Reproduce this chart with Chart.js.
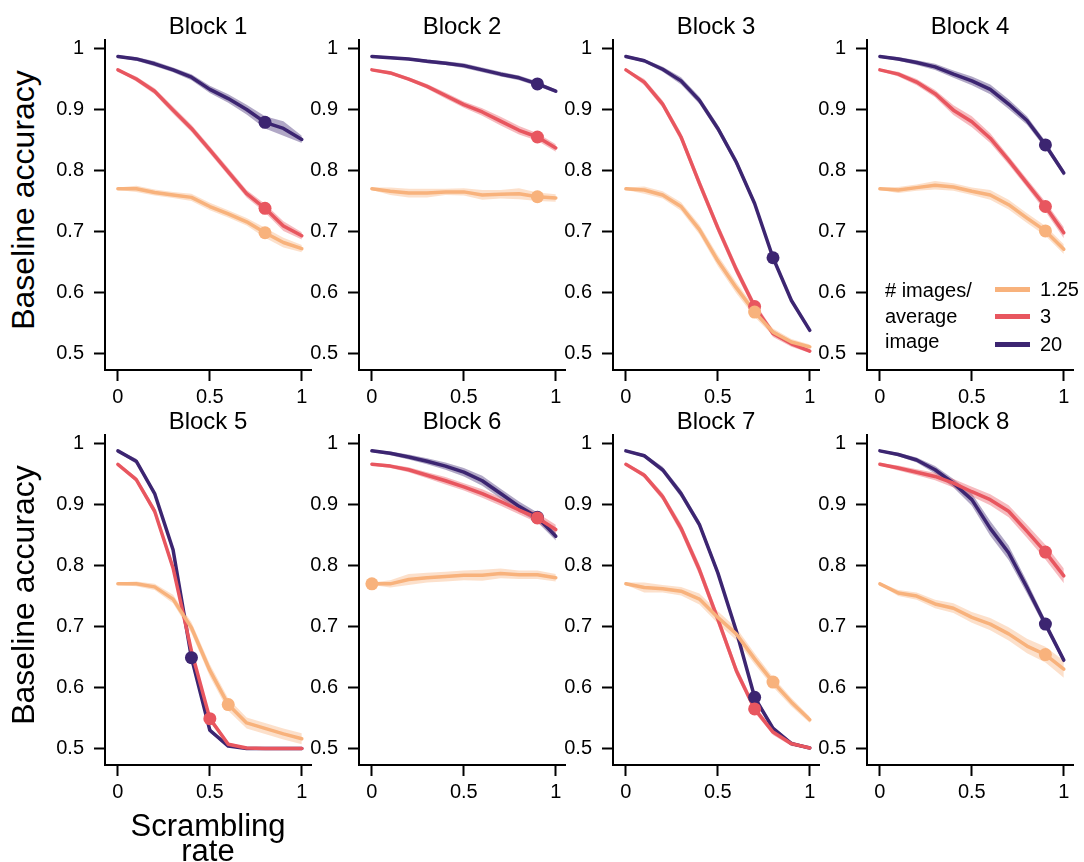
<!DOCTYPE html>
<html>
<head>
<meta charset="utf-8">
<script src="https://cdn.jsdelivr.net/npm/chart.js@4/dist/chart.umd.min.js"></script>
<style>
  body { margin: 0; background: #fff; }
  #wrap { position: relative; width: 1084px; height: 862px; overflow: hidden; font-family: "Liberation Sans", Arial, sans-serif; color: #000; }
  #wrap canvas { position: absolute; }
  .txt { position: absolute; white-space: nowrap; }
</style>
</head>
<body>
<div id="wrap"></div>
<script>
// x values shared by every block
const scramblingRates = [0, 0.1, 0.2, 0.3, 0.4, 0.5, 0.6, 0.7, 0.8, 0.9, 1];
const xTickValues = [0, 0.5, 1];
const yTickValues = [0.5, 0.6, 0.7, 0.8, 0.9, 1];
const blockNames = ["Block 1", "Block 2", "Block 3", "Block 4", "Block 5", "Block 6", "Block 7", "Block 8"];
const seriesNames = ["1.25", "3", "20"];

// mean baseline accuracy, one row per block
const acc125 = [
    [0.770, 0.770, 0.764, 0.760, 0.756, 0.741, 0.729, 0.716, 0.698, 0.682, 0.672],
    [0.770, 0.766, 0.763, 0.763, 0.765, 0.765, 0.760, 0.761, 0.762, 0.757, 0.755],
    [0.770, 0.768, 0.760, 0.741, 0.703, 0.652, 0.608, 0.568, 0.535, 0.519, 0.511],
    [0.770, 0.768, 0.772, 0.776, 0.773, 0.766, 0.760, 0.744, 0.722, 0.701, 0.671],
    [0.770, 0.770, 0.765, 0.745, 0.698, 0.628, 0.572, 0.542, 0.533, 0.524, 0.516],
    [0.770, 0.770, 0.777, 0.780, 0.782, 0.784, 0.784, 0.787, 0.785, 0.785, 0.780],
    [0.770, 0.764, 0.762, 0.758, 0.745, 0.715, 0.688, 0.647, 0.609, 0.576, 0.547],
    [0.770, 0.755, 0.750, 0.737, 0.730, 0.715, 0.704, 0.688, 0.668, 0.654, 0.630]
];
const acc3 = [
    [0.965, 0.950, 0.930, 0.899, 0.869, 0.834, 0.798, 0.762, 0.738, 0.709, 0.693],
    [0.965, 0.960, 0.950, 0.938, 0.923, 0.908, 0.896, 0.881, 0.866, 0.855, 0.837],
    [0.965, 0.945, 0.909, 0.855, 0.779, 0.706, 0.638, 0.577, 0.533, 0.516, 0.504],
    [0.965, 0.958, 0.945, 0.926, 0.899, 0.880, 0.853, 0.817, 0.779, 0.741, 0.698],
    [0.966, 0.941, 0.889, 0.796, 0.660, 0.549, 0.507, 0.501, 0.500, 0.500, 0.500],
    [0.966, 0.963, 0.957, 0.948, 0.939, 0.929, 0.918, 0.905, 0.891, 0.878, 0.859],
    [0.966, 0.948, 0.913, 0.861, 0.793, 0.712, 0.628, 0.565, 0.527, 0.508, 0.501],
    [0.966, 0.960, 0.953, 0.946, 0.935, 0.921, 0.908, 0.889, 0.856, 0.822, 0.783]
];
const acc20 = [
    [0.987, 0.983, 0.975, 0.965, 0.953, 0.933, 0.918, 0.900, 0.879, 0.869, 0.851],
    [0.987, 0.985, 0.983, 0.979, 0.976, 0.972, 0.965, 0.958, 0.952, 0.942, 0.930],
    [0.987, 0.980, 0.966, 0.947, 0.915, 0.869, 0.814, 0.746, 0.657, 0.587, 0.538],
    [0.987, 0.983, 0.977, 0.970, 0.958, 0.947, 0.933, 0.909, 0.882, 0.842, 0.796],
    [0.988, 0.971, 0.918, 0.826, 0.649, 0.530, 0.504, 0.500, 0.500, 0.500, 0.500],
    [0.988, 0.984, 0.978, 0.971, 0.963, 0.953, 0.939, 0.918, 0.897, 0.879, 0.848],
    [0.988, 0.980, 0.957, 0.918, 0.867, 0.788, 0.693, 0.584, 0.533, 0.508, 0.501],
    [0.988, 0.982, 0.973, 0.957, 0.935, 0.908, 0.861, 0.821, 0.764, 0.704, 0.645]
];

// half width of the shaded band
const sem125 = [
    [0.002, 0.005, 0.005, 0.005, 0.006, 0.006, 0.006, 0.006, 0.008, 0.008, 0.006],
    [0.002, 0.006, 0.007, 0.007, 0.005, 0.006, 0.008, 0.007, 0.009, 0.007, 0.006],
    [0.002, 0.006, 0.006, 0.007, 0.008, 0.009, 0.009, 0.008, 0.006, 0.005, 0.004],
    [0.002, 0.005, 0.005, 0.007, 0.006, 0.006, 0.008, 0.008, 0.008, 0.008, 0.008],
    [0.002, 0.004, 0.005, 0.007, 0.009, 0.010, 0.010, 0.009, 0.009, 0.009, 0.009],
    [0.002, 0.006, 0.009, 0.008, 0.008, 0.008, 0.009, 0.008, 0.007, 0.007, 0.006],
    [0.002, 0.008, 0.006, 0.007, 0.009, 0.010, 0.010, 0.009, 0.008, 0.007, 0.005],
    [0.002, 0.005, 0.006, 0.007, 0.008, 0.009, 0.010, 0.011, 0.012, 0.013, 0.014]
];
const sem3 = [
    [0.002, 0.004, 0.005, 0.006, 0.006, 0.006, 0.006, 0.006, 0.007, 0.008, 0.006],
    [0.002, 0.003, 0.003, 0.004, 0.005, 0.005, 0.006, 0.007, 0.007, 0.006, 0.006],
    [0.002, 0.005, 0.006, 0.007, 0.008, 0.008, 0.008, 0.007, 0.006, 0.005, 0.003],
    [0.002, 0.004, 0.005, 0.006, 0.008, 0.009, 0.008, 0.007, 0.007, 0.008, 0.009],
    [0.002, 0.004, 0.006, 0.007, 0.006, 0.005, 0.003, 0.001, 0.001, 0.001, 0.001],
    [0.002, 0.003, 0.004, 0.005, 0.006, 0.006, 0.007, 0.007, 0.007, 0.008, 0.008],
    [0.002, 0.004, 0.006, 0.008, 0.009, 0.009, 0.008, 0.006, 0.005, 0.004, 0.002],
    [0.002, 0.004, 0.005, 0.006, 0.007, 0.008, 0.009, 0.010, 0.011, 0.012, 0.012]
];
const sem20 = [
    [0.002, 0.003, 0.004, 0.004, 0.005, 0.006, 0.007, 0.008, 0.010, 0.012, 0.006],
    [0.002, 0.002, 0.002, 0.003, 0.003, 0.004, 0.004, 0.004, 0.004, 0.004, 0.003],
    [0.002, 0.003, 0.004, 0.006, 0.006, 0.006, 0.006, 0.005, 0.005, 0.004, 0.003],
    [0.002, 0.003, 0.004, 0.005, 0.006, 0.007, 0.008, 0.008, 0.007, 0.006, 0.005],
    [0.002, 0.004, 0.004, 0.005, 0.005, 0.004, 0.002, 0.001, 0.001, 0.001, 0.001],
    [0.002, 0.003, 0.004, 0.005, 0.006, 0.007, 0.008, 0.008, 0.008, 0.008, 0.007],
    [0.002, 0.003, 0.005, 0.006, 0.006, 0.006, 0.005, 0.005, 0.004, 0.003, 0.002],
    [0.002, 0.003, 0.004, 0.006, 0.007, 0.010, 0.012, 0.012, 0.010, 0.007, 0.005]
];

// scrambling rate where the dot sits, per block
const markerRate125 = [0.8, 0.9, 0.7, 0.9, 0.6, 0, 0.8, 0.9];
const markerRate3 = [0.8, 0.9, 0.7, 0.9, 0.5, 0.9, 0.7, 0.9];
const markerRate20 = [0.8, 0.9, 0.8, 0.9, 0.4, 0.9, 0.7, 0.9];

// looks
const seriesColors = ["#f8b27c", "#e8565f", "#3c2571"];
const FONT = "'Liberation Sans', Arial, sans-serif";
const AREA_W = 206, AREA_H = 332;
const colLeft = [105, 359, 613, 867];
const rowTop = [38, 433];
const Y_AXIS_W = 64, X_AXIS_H = 50, PAD_TOP = 20, PAD_RIGHT = 24;

const wrap = document.getElementById("wrap");

function withAlpha(hex, a) {
    let r = parseInt(hex.slice(1, 3), 16);
    let g = parseInt(hex.slice(3, 5), 16);
    let b = parseInt(hex.slice(5, 7), 16);
    return "rgba(" + r + "," + g + "," + b + "," + a + ")";
}

function addText(text, css) {
    let d = document.createElement("div");
    d.className = "txt";
    d.innerHTML = text;
    Object.assign(d.style, css);
    wrap.appendChild(d);
    return d;
}

function buildDatasets(b) {
    const means = [acc125[b], acc3[b], acc20[b]];
    const sems = [sem125[b], sem3[b], sem20[b]];
    const marks = [markerRate125[b], markerRate3[b], markerRate20[b]];
    let sets = [];

    // orange first so it ends up on top (lower index drawn last)
    for (let s = 0; s < 3; s++) {
        let col = seriesColors[s];
        let mean = means[s], sem = sems[s];

        let upper = scramblingRates.map((x, i) => ({ x: x, y: mean[i] + sem[i] }));
        let lower = scramblingRates.map((x, i) => ({ x: x, y: mean[i] - sem[i] }));
        let line = scramblingRates.map((x, i) => ({ x: x, y: mean[i] }));
        let mi = scramblingRates.indexOf(marks[s]);

        sets.push({ data: upper, borderWidth: 0, borderColor: "rgba(0,0,0,0)", pointRadius: 0, fill: false, order: 3 });
        sets.push({ data: lower, borderWidth: 0, borderColor: "rgba(0,0,0,0)", pointRadius: 0,
                    fill: "-1", backgroundColor: withAlpha(col, 0.4), order: 3 });
        sets.push({ data: line, borderColor: col, borderWidth: 3.5, pointRadius: 0, fill: false,
                    borderJoinStyle: "round", borderCapStyle: "round", order: 2 });
        sets.push({ data: [{ x: scramblingRates[mi], y: mean[mi] }], showLine: false, pointRadius: 6.5,
                    pointBackgroundColor: col, pointBorderWidth: 0, clip: false, order: 1 });
    }
    return sets;
}

function axisStyle() {
    return {
        type: "linear",
        grid: { drawOnChartArea: false, drawTicks: true, tickLength: 11, tickWidth: 2, tickColor: "#000" },
        border: { display: true, color: "#000", width: 2 },
        ticks: { autoSkip: false, color: "#000", font: { family: FONT, size: 20 }, callback: v => String(v) }
    };
}

for (let b = 0; b < 8; b++) {
    let col = b % 4, row = Math.floor(b / 4);

    let canvas = document.createElement("canvas");
    canvas.width = Y_AXIS_W + AREA_W + PAD_RIGHT;
    canvas.height = PAD_TOP + AREA_H + X_AXIS_H;
    canvas.style.left = (colLeft[col] - Y_AXIS_W) + "px";
    canvas.style.top = (rowTop[row] - PAD_TOP) + "px";
    wrap.appendChild(canvas);

    let xAxis = axisStyle();
    xAxis.min = -0.07;
    xAxis.max = 1.05;
    xAxis.ticks.padding = 4;
    xAxis.afterBuildTicks = s => { s.ticks = xTickValues.map(v => ({ value: v })); };
    xAxis.afterFit = s => { s.height = X_AXIS_H; };

    let yAxis = axisStyle();
    yAxis.min = 0.473;
    yAxis.max = 1.014;
    yAxis.ticks.padding = 10;
    yAxis.afterBuildTicks = s => { s.ticks = yTickValues.map(v => ({ value: v })); };
    yAxis.afterFit = s => { s.width = Y_AXIS_W; };

    new Chart(canvas.getContext("2d"), {
        type: "line",
        data: { datasets: buildDatasets(b) },
        options: {
            responsive: false,
            animation: false,
            devicePixelRatio: 1,
            layout: { padding: { top: PAD_TOP, right: PAD_RIGHT, left: 0, bottom: 0 } },
            plugins: { legend: { display: false }, tooltip: { enabled: false }, title: { display: false } },
            scales: { x: xAxis, y: yAxis }
        }
    });

    // panel title
    addText(blockNames[b], {
        left: (colLeft[col] + AREA_W / 2 - 150) + "px", width: "300px", textAlign: "center",
        top: (rowTop[row] - 24) + "px", fontSize: "24px", lineHeight: "24px"
    });
}

// shared axis labels
for (let row = 0; row < 2; row++) {
    addText("Baseline accuracy", {
        left: (23 - 200) + "px", width: "400px", textAlign: "center",
        top: (rowTop[row] + AREA_H / 2 - 4 - 16) + "px", fontSize: "32px", lineHeight: "32px",
        transform: "rotate(-90deg)"
    });
}
addText("Scrambling<br>rate", {
    left: (colLeft[0] + AREA_W / 2 - 150) + "px", width: "300px", textAlign: "center",
    top: "813px", fontSize: "31px", lineHeight: "25px"
});

// legend in the Block 4 panel
addText("# images/<br>average<br>image", { left: "885px", top: "278px", fontSize: "20px", lineHeight: "25.5px" });
const legendRowY = [289, 316.5, 344];
for (let s = 0; s < 3; s++) {
    let row = addText("", { left: "995px", top: (legendRowY[s] - 12.5) + "px", fontSize: "20px", lineHeight: "25px", height: "25px" });
    let sw = document.createElement("span");
    Object.assign(sw.style, { position: "absolute", left: "0px", top: "10px", width: "35px", height: "5px", background: seriesColors[s] });
    row.appendChild(sw);
    let lab = document.createElement("span");
    Object.assign(lab.style, { position: "absolute", left: "45px", top: "0px" });
    lab.textContent = seriesNames[s];
    row.appendChild(lab);
}
</script>
</body>
</html>
